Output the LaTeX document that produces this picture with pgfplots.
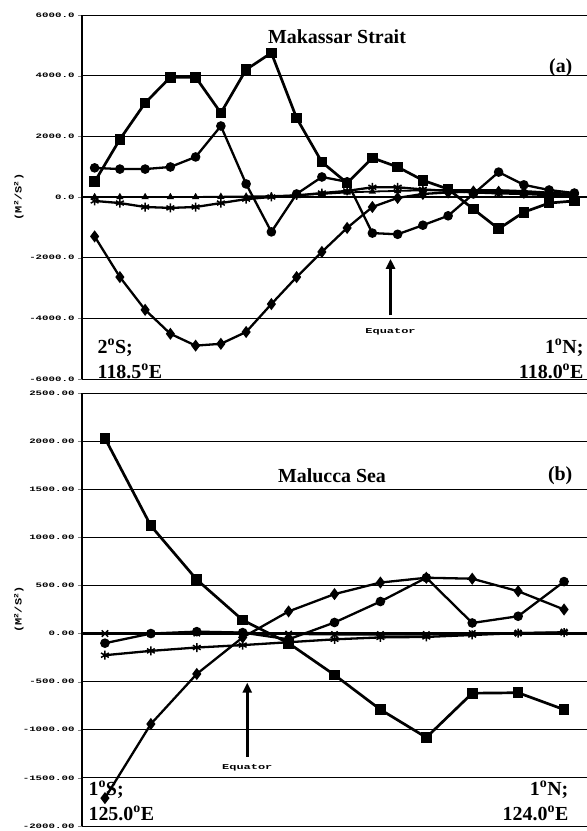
\documentclass[border=0pt]{standalone}
\usepackage{fontspec}
\setmainfont{Liberation Serif}
\setmonofont{Liberation Mono}
\usepackage{graphicx}
\usepackage{pgfplots}
\pgfplotsset{compat=1.18}
\usetikzlibrary{arrows.meta}

\newcommand{\tl}[1]{\scalebox{1.2}[0.75]{#1}}
\newcommand{\dg}{\textsuperscript{o}}

\tikzset{
  big/.style={font=\bfseries\fontsize{20}{25}\selectfont},
  eq/.style={font=\ttfamily\bfseries\fontsize{10}{10}\selectfont},
}

\pgfplotsset{
  panel/.style={
    scale only axis, width=505bp, xmin=0.5,
    axis x line=none, axis y line*=left,
    y axis line style={-, line width=1.1pt},
    ymajorgrids, grid style={black, line width=0.9pt},
    ytick align=outside, major tick length=4bp,
    yticklabel style={font=\ttfamily\bfseries\fontsize{9}{9}\selectfont},
    every axis y label/.style={at={(rel axis cs:-0.125,0.5)}, rotate=90, anchor=center,
      font=\ttfamily\bfseries\fontsize{12}{12}\selectfont},
    ylabel={\scalebox{1}[0.8]{(M\textsuperscript{2}/S\textsuperscript{2})}},
    clip=false,
  },
  sq/.style={black, line width=2.7bp, mark=square*, mark size=4bp},
  ci/.style={black, line width=2.3bp, mark=*, mark size=3.6bp},
  di/.style={black, line width=2.3bp, mark=diamond*, mark size=4.2bp},
  as/.style={black, line width=2.3bp, mark=asterisk, mark size=4.5bp, mark options={line width=1.5bp}},
  tr/.style={black, line width=1.8bp, mark=triangle*, mark size=2.4bp},
  xs/.style={black, line width=2bp, mark=x, mark size=4.5bp, mark options={line width=1.5bp}},
}

\begin{document}
\begin{tikzpicture}
\useasboundingbox (0,0) rectangle (587bp,831bp);

% (a) Makassar Strait
\begin{axis}[panel, at={(82bp,452bp)}, height=364bp,
  xmax=20.5, ymin=-6000, ymax=6000,
  ytick={-6000,-4000,...,6000},
  yticklabels={\tl{-6000.0},\tl{-4000.0},\tl{-2000.0},\tl{0.0},\tl{2000.0},\tl{4000.0},\tl{6000.0}},
]
\draw[line width=2.6bp] (axis cs:0.5,0) -- (axis cs:20.5,0);
\addplot[tr] coordinates {(1,0)(2,0)(3,0)(4,0)(5,0)(6,10)(7,20)(8,30)(9,60)(10,100)
  (11,150)(12,180)(13,200)(14,220)(15,230)(16,230)(17,230)(18,200)(19,150)(20,100)};
\addplot[as] coordinates {(1,-130)(2,-200)(3,-330)(4,-360)(5,-330)(6,-200)(7,-70)(8,0)(9,50)(10,130)
  (11,200)(12,320)(13,320)(14,250)(15,200)(16,150)(17,120)(18,100)(19,60)(20,30)};
\addplot[di] coordinates {(1,-1300)(2,-2640)(3,-3720)(4,-4510)(5,-4900)(6,-4840)(7,-4450)(8,-3530)(9,-2640)(10,-1810)
  (11,-1020)(12,-330)(13,-30)(14,100)(15,150)(16,180)(17,170)(18,150)(19,120)(20,80)};
\addplot[ci] coordinates {(1,960)(2,920)(3,920)(4,990)(5,1320)(6,2340)(7,430)(8,-1150)(9,100)(10,660)
  (11,500)(12,-1190)(13,-1230)(14,-930)(15,-620)(16,100)(17,820)(18,400)(19,230)(20,130)};
\addplot[sq] coordinates {(1,500)(2,1900)(3,3100)(4,3950)(5,3950)(6,2770)(7,4200)(8,4750)(9,2600)(10,1150)
  (11,460)(12,1290)(13,990)(14,550)(15,260)(16,-400)(17,-1050)(18,-500)(19,-200)(20,-130)};
\node[big] at (rel axis cs:0.505,0.94) {Makassar Strait};
\node[big, anchor=east] at (rel axis cs:0.978,0.854) {(a)};
\node[big, anchor=west, align=left] at (rel axis cs:0.024,0.055) {2\dg S;\\118.5\dg E};
\node[big, anchor=east, align=right] at (rel axis cs:1.0,0.055) {1\dg N;\\118.0\dg E};
\draw[-{Triangle[length=10bp,width=9bp]}, line width=2.6bp] (axis cs:12.72,-3900) -- (axis cs:12.72,-2040);
\node[eq] at (axis cs:12.72,-4450) {\tl{Equator}};
\end{axis}

% (b) Malucca Sea
\begin{axis}[panel, at={(82bp,5bp)}, height=433bp,
  xmax=11.5, ymin=-2000, ymax=2500,
  ytick={-2000,-1500,...,2500},
  yticklabels={\tl{-2000.00},\tl{-1500.00},\tl{-1000.00},\tl{-500.00},\tl{0.00},\tl{500.00},\tl{1000.00},\tl{1500.00},\tl{2000.00},\tl{2500.00}},
]
\draw[line width=2.6bp] (axis cs:0.5,0) -- (axis cs:11.5,0);
\addplot[xs] coordinates {(1,0)(2,0)(3,5)(4,10)(5,-5)(6,-10)(7,-10)(8,-10)(9,0)(10,5)(11,15)};
\addplot[as] coordinates {(1,-225)(2,-180)(3,-145)(4,-120)(5,-90)(6,-60)(7,-40)(8,-35)(9,-15)(10,5)(11,10)};
\addplot[di] coordinates {(1,-1710)(2,-940)(3,-420)(4,-40)(5,230)(6,410)(7,530)(8,580)(9,570)(10,440)(11,250)};
\addplot[ci] coordinates {(1,-100)(2,0)(3,20)(4,10)(5,-60)(6,115)(7,333)(8,580)(9,110)(10,180)(11,540)};
\addplot[sq] coordinates {(1,2030)(2,1120)(3,560)(4,140)(5,-100)(6,-430)(7,-790)(8,-1080)(9,-620)(10,-615)(11,-790)};
\node[big] at (rel axis cs:0.495,0.808) {Malucca Sea};
\node[big, anchor=east] at (rel axis cs:0.978,0.81) {(b)};
\node[big, anchor=west, align=left] at (rel axis cs:0.006,0.058) {1\dg S;\\125.0\dg E};
\node[big, anchor=east, align=right] at (rel axis cs:0.97,0.058) {1\dg N;\\124.0\dg E};
\draw[-{Triangle[length=10bp,width=9bp]}, line width=2.6bp] (axis cs:4.1,-1280) -- (axis cs:4.1,-510);
\node[eq] at (axis cs:4.1,-1400) {\tl{Equator}};
\end{axis}
\end{tikzpicture}
\end{document}
